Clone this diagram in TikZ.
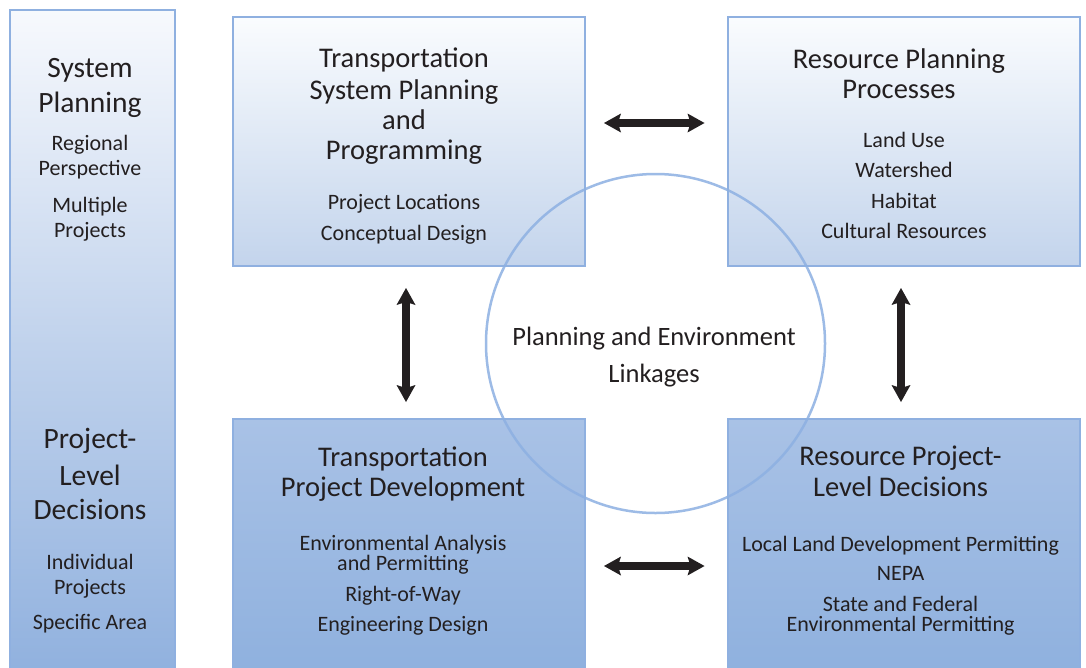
\documentclass[tikz,border=0pt]{standalone}
\usepackage{fontspec}
\setmainfont{Carlito}
\usetikzlibrary{arrows.meta}
\definecolor{ink}{HTML}{231F20}
\definecolor{edge}{HTML}{8FB0E0}
\definecolor{ringc}{HTML}{8DB0E2}
\definecolor{topA}{HTML}{FAFCFE}
\definecolor{topB}{HTML}{C3D4EC}
\definecolor{botA}{HTML}{A9C2E6}
\definecolor{botB}{HTML}{8EB0DE}
\definecolor{colA}{HTML}{F7F9FD}
\definecolor{colM}{HTML}{C0D2EC}
\definecolor{colB}{HTML}{8FB0DE}
\tikzset{
  box/.style={draw=edge, line width=2pt, inner sep=0pt, minimum width=352pt},
  topbox/.style={box, top color=topA, bottom color=topB, minimum height=249pt},
  botbox/.style={box, top color=botA, bottom color=botB, minimum height=262pt},
  colbox/.style={draw=edge, line width=2pt, inner sep=0pt, minimum width=165pt, minimum height=672pt,
    top color=colA, bottom color=colB, middle color=colM},
  ring/.style={draw=ringc, draw opacity=0.85, line width=2.5pt, circle, minimum size=339pt, inner sep=0pt},
  dblarrow/.style={draw=ink, line width=7.5pt,
    {Stealth[length=17pt,width=19pt,inset=3pt,line width=0pt]}-{Stealth[length=17pt,width=19pt,inset=3pt,line width=0pt]}},
  txt/.style={text=ink, inner sep=0pt, anchor=base},
  hd/.style={txt, font=\fontsize{28.5}{30}\selectfont},
  bd/.style={txt, font=\fontsize{22}{24}\selectfont},
  lhd/.style={txt, font=\fontsize{29.5}{31}\selectfont},
  lbd/.style={txt, font=\fontsize{22}{24}\selectfont},
  ctx/.style={txt, font=\fontsize{26.5}{28}\selectfont},
}
\begin{document}
\begin{tikzpicture}[x=1pt,y=-1pt]
\useasboundingbox (0,0) rectangle (1086,667);
\clip (0,0) rectangle (1086,667);
\fill[white] (0,0) rectangle (1086,667);

% left column
\node[colbox] (col) at (92.5,346) {};
% boxes
\node[topbox] (tl) at (409,141.5) {};
\node[topbox] (tr) at (903.5,141.5) {};
\node[botbox] (bl) at (409,550) {};
\node[botbox] (br) at (903.5,550) {};
% circle
\node[ring] (ring) at (655.5,343.5) {};

% arrows
\draw[dblarrow, shorten <=18pt, shorten >=22pt] ([yshift=18.5pt]tl.east) -- ([yshift=18.5pt]tr.west);
\draw[dblarrow, shorten <=18pt, shorten >=22pt] ([yshift=-16pt]bl.east) -- ([yshift=-16pt]br.west);
\draw[dblarrow, shorten <=21pt, shorten >=16pt] ([xshift=-3pt]tl.south) -- ([xshift=-3pt]bl.north);
\draw[dblarrow, shorten <=21pt, shorten >=16pt] ([xshift=-2.5pt]tr.south) -- ([xshift=-2.5pt]br.north);

% left column text
\node[lhd] (c1) at (90,77) {System};
\node[lhd] (c2) at (90,112) {Planning};
\node[lbd] (c3) at (90,150) {Regional};
\node[lbd] (c4) at (90,175) {Perspective};
\node[lbd] (c5) at (90,212) {Multiple};
\node[lbd] (c6) at (90,237) {Projects};
\node[lhd] (c7) at (90,448) {Project-};
\node[lhd] (c8) at (90,485) {Level};
\node[lhd] (c9) at (90,519) {Decisions};
\node[lbd] (c10) at (90,569) {Individual};
\node[lbd] (c11) at (90,594) {Projects};
\node[lbd] (c12) at (90,629) {Specific Area};

% top-left text
\node[hd] (a1) at (404,67) {Transportation};
\node[hd] (a2) at (404,99) {System Planning};
\node[hd] (a3) at (404,129) {and};
\node[hd] (a4) at (404,159) {Programming};
\node[bd] (a5) at (404,209) {Project Locations};
\node[bd] (a6) at (404,240) {Conceptual Design};

% top-right text
\node[hd] (b1) at (899,68) {Resource Planning};
\node[hd] (b2) at (899,98) {Processes};
\node[bd] (b3) at (904,147) {Land Use};
\node[bd] (b4) at (904,177) {Watershed};
\node[bd] (b5) at (904,208) {Habitat};
\node[bd] (b6) at (904,238) {Cultural Resources};

% bottom-left text
\node[hd] (d1) at (403,466) {Transportation};
\node[hd] (d2) at (403,496) {Project Development};
\node[bd] (d3) at (403,550) {Environmental Analysis};
\node[bd] (d4) at (403,570) {and Permitting};
\node[bd] (d5) at (403,601) {Right-of-Way};
\node[bd] (d6) at (403,631) {Engineering Design};

% bottom-right text
\node[hd] (e1) at (900.5,465) {Resource Project-};
\node[hd] (e2) at (900.5,496) {Level Decisions};
\node[bd] (e3) at (900.5,551) {Local Land Development Permitting};
\node[bd] (e4) at (900.5,580) {NEPA};
\node[bd] (e5) at (900.5,611) {State and Federal};
\node[bd] (e6) at (900.5,631) {Environmental Permitting};

% circle text
\node[ctx] (r1) at (654,345) {Planning and Environment};
\node[ctx] (r2) at (654,382) {Linkages};
\end{tikzpicture}
\end{document}
